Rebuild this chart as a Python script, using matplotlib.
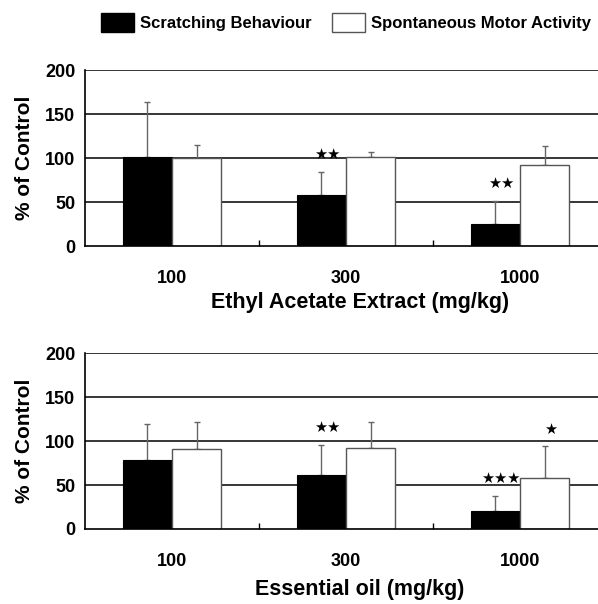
import numpy as np
import matplotlib.pyplot as plt
from matplotlib.patches import Patch

plt.rcParams['font.family'] = ['Liberation Sans', 'DejaVu Sans']
plt.rcParams['font.weight'] = 'bold'
plt.rcParams['axes.labelweight'] = 'bold'

doses = ['100', '300', '1000']

# Ethyl acetate extract
ea_scratch = [101, 58.5, 25]
ea_scratch_err = [63, 26, 26]
ea_motor = [100, 101, 92.5]
ea_motor_err = [15, 6, 21]
ea_scratch_stars = ['', '★★', '★★']
ea_motor_stars = ['', '', '']

# Essential oil
eo_scratch = [79, 61, 20.5]
eo_scratch_err = [41, 35, 17]
eo_motor = [91, 92, 58]
eo_motor_err = [31, 30, 36]
eo_scratch_stars = ['', '★★', '★★★']
eo_motor_stars = ['', '', '★']

fig = plt.figure(figsize=(5.98, 6.04), dpi=100)
ax1 = fig.add_axes([0.1421, 0.5927, 0.873, 0.2914])
ax2 = fig.add_axes([0.1421, 0.1242, 0.873, 0.2909])

w = 0.284
x = np.arange(len(doses))


def draw(ax, s, s_err, m, m_err, s_stars, m_stars, xlabel, xlab_y):
    for y in [50, 100, 150, 200]:
        ax.axhline(y, color='black', linewidth=1.1, zorder=0)
    ax.bar(x - w / 2, s, w, color='black', edgecolor='black', linewidth=0.8, zorder=2)
    ax.bar(x + w / 2, m, w, color='white', edgecolor='#555555', linewidth=1.0, zorder=2)
    ax.errorbar(x - w / 2, s, yerr=[np.zeros(3), s_err], fmt='none',
                ecolor='#666666', elinewidth=1, capsize=2, capthick=1, zorder=1)
    ax.errorbar(x + w / 2, m, yerr=[np.zeros(3), m_err], fmt='none',
                ecolor='#666666', elinewidth=1, capsize=2, capthick=1, zorder=1)
    for i in range(3):
        if s_stars[i]:
            ax.annotate(s_stars[i], (x[i] - w / 2, s[i] + s_err[i]), xytext=(4, 7),
                        textcoords='offset points', ha='center', va='bottom',
                        fontsize=10.5, family=['DejaVu Sans'])
        if m_stars[i]:
            ax.annotate(m_stars[i], (x[i] + w / 2, m[i] + m_err[i]), xytext=(4, 7),
                        textcoords='offset points', ha='center', va='bottom',
                        fontsize=10.5, family=['DejaVu Sans'])
    ax.set_xlim(-0.5, 2.5)
    ax.set_ylim(0, 200)
    ax.set_yticks([0, 50, 100, 150, 200])
    ax.set_xticks(x)
    ax.set_xticklabels(doses)
    ax.set_xticks([0.5, 1.5], minor=True)
    ax.tick_params(axis='x', which='major', length=0, labelsize=13, pad=17)
    ax.tick_params(axis='x', which='minor', direction='in', length=4, width=1)
    ax.tick_params(axis='y', length=0, labelsize=13, pad=7)
    for sp in ['top', 'right']:
        ax.spines[sp].set_visible(False)
    ax.spines['left'].set_linewidth(1.2)
    ax.spines['bottom'].set_linewidth(1.2)
    ax.set_ylabel('% of Control', fontsize=15, labelpad=8)
    ax.set_xlabel(xlabel, fontsize=15.5, va='center')
    ax.xaxis.set_label_coords(0.527, xlab_y)


draw(ax1, ea_scratch, ea_scratch_err, ea_motor, ea_motor_err,
     ea_scratch_stars, ea_motor_stars, 'Ethyl Acetate Extract (mg/kg)', -56 / 176)
draw(ax2, eo_scratch, eo_scratch_err, eo_motor, eo_motor_err,
     eo_scratch_stars, eo_motor_stars, 'Essential oil (mg/kg)', -61 / 176)

handles = [Patch(facecolor='black', edgecolor='black'),
           Patch(facecolor='white', edgecolor='#555555')]
fig.legend(handles, ['Scratching Behaviour', 'Spontaneous Motor Activity'],
           loc='upper left', bbox_to_anchor=(101 / 598, 1 - 13 / 604), ncol=2,
           frameon=False, fontsize=12, handlelength=2.0, handleheight=1.4,
           columnspacing=1.2, handletextpad=0.35, borderpad=0, borderaxespad=0)

fig.savefig('out.png', dpi=100)
